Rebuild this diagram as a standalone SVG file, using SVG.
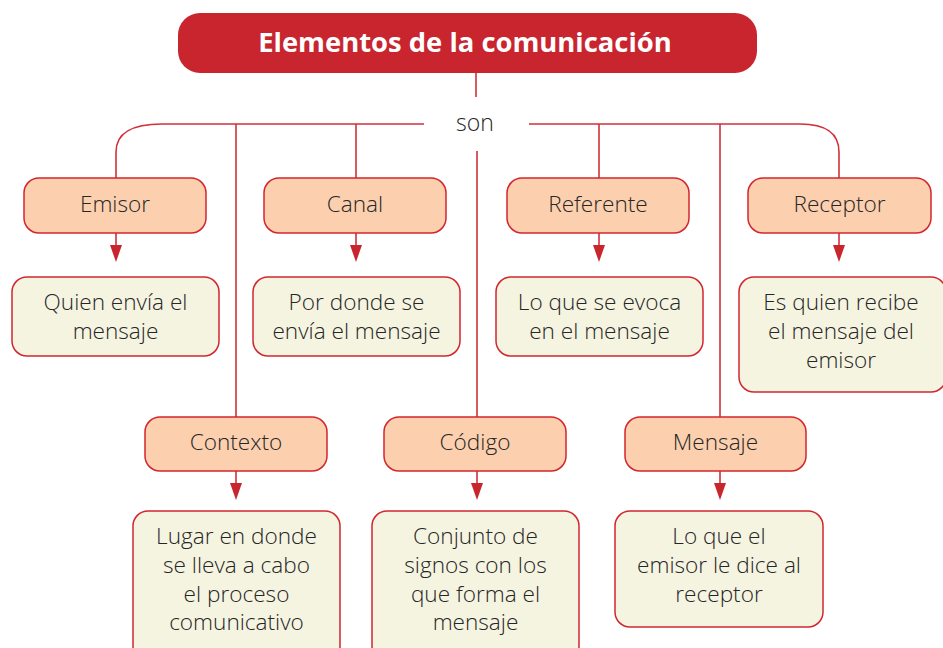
<svg xmlns="http://www.w3.org/2000/svg" width="943" height="648" viewBox="0 0 943 648">
<defs>
<style>
.ln{fill:none;stroke:#d0313a;stroke-width:1.6}
.ah{fill:#c9252f}
.hd{fill:#fcd0ae;stroke:#d2262f;stroke-width:1.5}
.bd{fill:#f5f4e1;stroke:#d2262f;stroke-width:1.5}
.t{font-family:"Open Sans","Noto Sans","Liberation Sans",sans-serif;font-weight:300;font-size:22.6px;fill:#262626;text-anchor:middle}
.ti{font-family:"Open Sans","Noto Sans","Liberation Sans",sans-serif;font-weight:700;font-size:27.4px;fill:#ffffff;text-anchor:middle}
</style>
</defs>
<rect width="943" height="648" fill="#ffffff"/>
<g id="title">
<rect x="178" y="13" width="579" height="60" rx="22" fill="#c9252f"/>
<text class="ti" x="465" y="52">Elementos de la comunicación</text>
</g>
<g id="connectors">
<path class="ln" d="M476,73 V97"/>
<path class="ln" d="M424,124 H162 C130,124 116,134 116,152 V178"/>
<path class="ln" d="M529,124 H800 C826,124 839,134 839,152 V178"/>
<path class="ln" d="M236,124 V417"/>
<path class="ln" d="M356,124 V178"/>
<path class="ln" d="M599,124 V178"/>
<path class="ln" d="M720,124 V417"/>
<path class="ln" d="M477,151 V417"/>
<path class="ln" d="M116,233 V246"/><path class="ah" d="M110,245 H122 L116,262 Z"/>
<path class="ln" d="M356,233 V246"/><path class="ah" d="M350,245 H362 L356,262 Z"/>
<path class="ln" d="M599,233 V246"/><path class="ah" d="M593,245 H605 L599,262 Z"/>
<path class="ln" d="M839,233 V246"/><path class="ah" d="M833,245 H845 L839,262 Z"/>
<path class="ln" d="M236,471 V484"/><path class="ah" d="M230,483 H242 L236,500 Z"/>
<path class="ln" d="M477,471 V484"/><path class="ah" d="M471,483 H483 L477,500 Z"/>
<path class="ln" d="M720,471 V484"/><path class="ah" d="M714,483 H726 L720,500 Z"/>
</g>
<text class="t" x="475" y="131" style="font-size:23px">son</text>
<g id="emisor"><rect class="hd" x="24" y="178" width="182" height="55" rx="15"/><text class="t" x="115" y="212">Emisor</text></g>
<g id="canal"><rect class="hd" x="264" y="178" width="182" height="55" rx="15"/><text class="t" x="355" y="212">Canal</text></g>
<g id="referente"><rect class="hd" x="507" y="178" width="182" height="55" rx="15"/><text class="t" x="598" y="212">Referente</text></g>
<g id="receptor"><rect class="hd" x="748" y="178" width="183" height="55" rx="15"/><text class="t" x="839.5" y="212">Receptor</text></g>
<g id="emisor-def"><rect class="bd" x="12" y="277" width="207" height="79" rx="15"/><text class="t" x="115.5" y="310">Quien envía el</text><text class="t" x="115.5" y="339">mensaje</text></g>
<g id="canal-def"><rect class="bd" x="253" y="277" width="207" height="79" rx="15"/><text class="t" x="356.5" y="310">Por donde se</text><text class="t" x="356.5" y="339">envía el mensaje</text></g>
<g id="referente-def"><rect class="bd" x="496" y="277" width="207" height="79" rx="15"/><text class="t" x="599.5" y="310">Lo que se evoca</text><text class="t" x="599.5" y="339">en el mensaje</text></g>
<g id="receptor-def"><rect class="bd" x="739" y="277" width="207" height="115" rx="15"/><text class="t" x="841" y="310">Es quien recibe</text><text class="t" x="841" y="339">el mensaje del</text><text class="t" x="841" y="368">emisor</text></g>
<g id="contexto"><rect class="hd" x="145" y="417" width="182" height="54" rx="15"/><text class="t" x="236" y="450">Contexto</text></g>
<g id="codigo"><rect class="hd" x="384" y="417" width="182" height="54" rx="15"/><text class="t" x="475" y="450">Código</text></g>
<g id="mensaje"><rect class="hd" x="625" y="417" width="181" height="54" rx="15"/><text class="t" x="715.5" y="450">Mensaje</text></g>
<g id="contexto-def"><rect class="bd" x="133" y="511" width="207" height="150" rx="15"/><text class="t" x="236.5" y="544">Lugar en donde</text><text class="t" x="236.5" y="573">se lleva a cabo</text><text class="t" x="236.5" y="602">el proceso</text><text class="t" x="236.5" y="630">comunicativo</text></g>
<g id="codigo-def"><rect class="bd" x="372" y="511" width="207" height="150" rx="15"/><text class="t" x="475.5" y="544">Conjunto de</text><text class="t" x="475.5" y="573">signos con los</text><text class="t" x="475.5" y="602">que forma el</text><text class="t" x="475.5" y="630">mensaje</text></g>
<g id="mensaje-def"><rect class="bd" x="615" y="511" width="208" height="116" rx="15"/><text class="t" x="719" y="544">Lo que el</text><text class="t" x="719" y="573">emisor le dice al</text><text class="t" x="719" y="602">receptor</text></g>
</svg>
